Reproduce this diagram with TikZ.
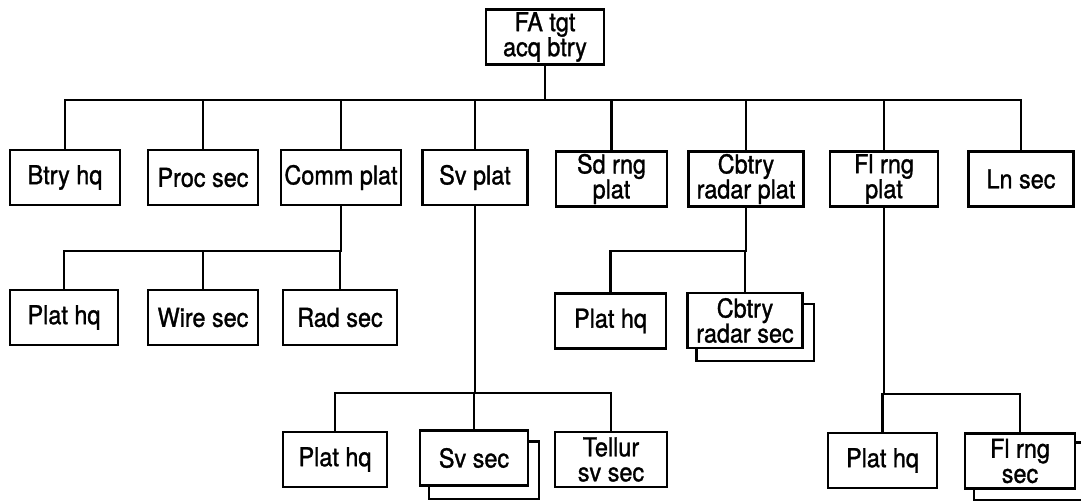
\documentclass[tikz,border=0pt]{standalone}
\usepackage{fontspec}
\setmainfont{TeX Gyre Heros}
\newfontfamily\dfont[FakeStretch=0.9,FakeBold=1.2]{TeX Gyre Heros}
\usetikzlibrary{calc}
\begin{document}
\begin{tikzpicture}[x=1pt,y=-1pt,
  box/.style={draw, line width=2.4pt, fill=white, inner sep=0pt, align=center,
    font=\dfont\fontsize{26}{25}\selectfont, minimum height=55pt},
  link/.style={line width=2.4pt}]
\useasboundingbox (0,0) rectangle (1081,501);
\clip (0,0) rectangle (1081,501);
% top
\node[box, minimum width=118pt] (top) at (545,37) {FA tgt\\acq btry};
% row 1
\node[box, minimum width=110pt] (btry) at (65,177.5) {Btry hq};
\node[box, minimum width=110pt] (proc) at (203,177.5) {Proc sec};
\node[box, minimum width=120pt] (comm) at (341,177.5) {Comm plat};
\node[box, minimum width=105pt] (sv) at (475,177.5) {Sv plat};
\node[box, minimum width=111pt] (sd) at (611.5,179) {Sd rng\\plat};
\node[box, minimum width=115pt] (cb) at (746,179) {Cbtry\\radar plat};
\node[box, minimum width=108pt] (fl) at (884,179) {Fl rng\\plat};
\node[box, minimum width=105pt] (ln) at (1021,179) {Ln sec};
% comm children
\node[box, minimum width=108pt] (phqa) at (64,317.5) {Plat hq};
\node[box, minimum width=110pt] (wire) at (203,317.5) {Wire sec};
\node[box, minimum width=114pt] (rad) at (340,317.5) {Rad sec};
% cbtry children
\node[box, minimum width=111pt] (phqb) at (610.5,321) {Plat hq};
\node[box, minimum width=115pt] (cbsec) at (745,320.5) {Cbtry\\radar sec};
% sv children
\node[box, minimum width=104pt] (phqc) at (335,459.5) {Plat hq};
\node[box, minimum width=108pt] (svsec) at (474,458) {Sv sec};
\node[box, minimum width=112pt] (tell) at (611,459.5) {Tellur\\sv sec};
% fl children
\node[box, minimum width=109pt] (phqd) at (882.5,460.5) {Plat hq};
\node[box, minimum width=110pt] (flsec) at (1020,461) {Fl rng\\sec};
% shadows of stacked boxes
\draw[link] ($(cbsec.south west)+(10,0)$) -- ++(0,12) -| ($(cbsec.north east)+(10,12)$) -- ++(-10,0);
\draw[link] ($(svsec.south west)+(10,0)$) -- ++(0,12) -| ($(svsec.north east)+(10,12)$) -- ++(-10,0);
\draw[link] ($(flsec.south west)+(10,0)$) -- ++(0,10) -| ($(flsec.north east)+(10,10)$) -- ++(-10,0);
% connectors from top
\foreach \c in {btry,proc,comm,sv,sd,cb,fl,ln}
  \draw[link] (top.south) -- ++(0,34) -| (\c.north);
% comm
\foreach \c in {phqa,wire,rad}
  \draw[link] (comm.south) -- ++(0,45) -| (\c.north);
% cbtry
\foreach \c in {phqb,cbsec}
  \draw[link] (cb.south) -- ++(0,43.5) -| (\c.north);
% sv
\foreach \c in {phqc,svsec,tell}
  \draw[link] (sv.south) -- ++(0,187) -| (\c.north);
% fl
\foreach \c in {phqd,flsec}
  \draw[link] (fl.south) -- ++(0,186.5) -| (\c.north);
\end{tikzpicture}
\end{document}
